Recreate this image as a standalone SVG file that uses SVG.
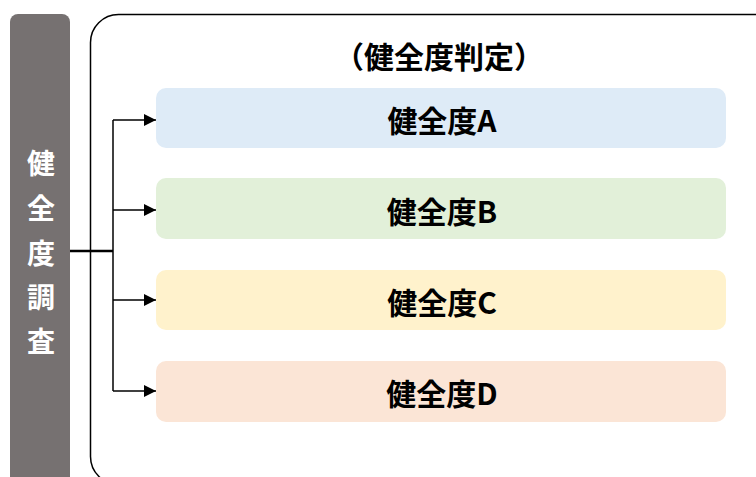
<svg xmlns="http://www.w3.org/2000/svg" width="756" height="477" viewBox="0 0 756 477">
<defs>
<style>
.t{font-family:"Noto Sans CJK JP","Noto Sans",sans-serif;font-weight:bold;font-size:30px;fill:#000;text-anchor:middle;dominant-baseline:central}
.v{font-family:"Noto Sans CJK JP","Noto Sans",sans-serif;font-weight:bold;font-size:28px;fill:#fff;text-anchor:middle;dominant-baseline:central}
.c{fill:none;stroke:#000;stroke-width:1.5}
</style>
<marker id="ar" viewBox="0 0 10 10" refX="10" refY="5" markerWidth="12" markerHeight="12" markerUnits="userSpaceOnUse" orient="auto">
<path d="M0,0 L10,5 L0,10 Z" fill="#000"/>
</marker>
</defs>
<rect width="756" height="477" fill="#fff"/>
<g id="frame">
<rect x="90.5" y="14.5" width="720" height="470" rx="28" ry="28" fill="none" stroke="#000" stroke-width="1.5"/>
<text class="t" x="439" y="55">（健全度判定）</text>
</g>
<g id="survey">
<rect x="10" y="14" width="60" height="475" rx="8" ry="8" fill="#767171"/>
<text class="v" x="41" y="162">健</text>
<text class="v" x="41" y="207">全</text>
<text class="v" x="41" y="252">度</text>
<text class="v" x="41" y="296">調</text>
<text class="v" x="41" y="340">査</text>
</g>
<g id="connectors">
<line x1="70" y1="251" x2="113" y2="251" stroke="#000" stroke-width="2.5"/>
<line class="c" x1="113" y1="120" x2="113" y2="391"/>
<line class="c" x1="113" y1="120" x2="156" y2="120" marker-end="url(#ar)"/>
<line class="c" x1="113" y1="210" x2="156" y2="210" marker-end="url(#ar)"/>
<line class="c" x1="113" y1="300" x2="156" y2="300" marker-end="url(#ar)"/>
<line class="c" x1="113" y1="391" x2="156" y2="391" marker-end="url(#ar)"/>
</g>
<g id="gradeA">
<rect x="156" y="88" width="570" height="60" rx="10" fill="#DEEBF7"/>
<text class="t" x="442" y="119">健全度A</text>
</g>
<g id="gradeB">
<rect x="156" y="178" width="570" height="61" rx="10" fill="#E2F0D9"/>
<text class="t" x="442" y="210">健全度B</text>
</g>
<g id="gradeC">
<rect x="156" y="270" width="570" height="60" rx="10" fill="#FFF2CC"/>
<text class="t" x="442" y="301">健全度C</text>
</g>
<g id="gradeD">
<rect x="156" y="361" width="570" height="61" rx="10" fill="#FBE5D6"/>
<text class="t" x="442" y="392">健全度D</text>
</g>
</svg>
